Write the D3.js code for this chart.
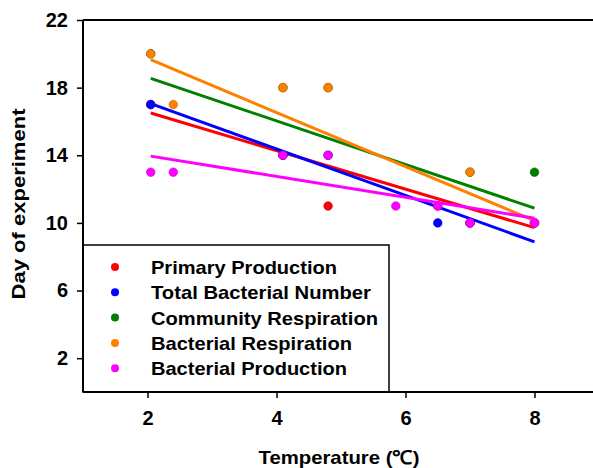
<!DOCTYPE html>
<html>
<head>
<meta charset="utf-8">
<script src="https://cdn.jsdelivr.net/npm/d3@7"></script>
<style>
  body { margin: 0; background: #fff; }
  text { font-family: Arial, "Liberation Sans", sans-serif; font-weight: bold; }
</style>
</head>
<body>
<div id="chart"></div>
<script>
// series names and colours
const seriesNames = ['Primary Production', 'Total Bacterial Number', 'Community Respiration',
    'Bacterial Respiration', 'Bacterial Production'];
const seriesColors = ['#ff0000', '#0000ff', '#008000', '#ff8000', '#ff00ff'];

// observed points (temperature, day) per series
const primaryProduction = [[2.05, 17], [4.1, 14], [4.8, 11], [6.5, 11], [7, 10], [8, 10]];
const totalBacterialNumber = [[2.05, 17], [4.1, 14], [4.8, 14], [6.5, 10], [7, 10], [8, 10]];
const communityRespiration = [[2.05, 20], [4.1, 18], [4.8, 18], [7, 13], [8, 13]];
const bacterialRespiration = [[2.05, 20], [2.4, 17], [4.1, 18], [4.8, 18], [7, 13], [8, 10]];
const bacterialProduction = [[2.05, 13], [2.4, 13], [4.1, 14], [4.8, 14], [5.85, 11], [6.5, 11], [7, 10], [8, 10]];
const seriesPoints = [primaryProduction, totalBacterialNumber, communityRespiration,
    bacterialRespiration, bacterialProduction];

// fitted regression lines: value at start temperature and at end temperature
const fitStartX = 2.05;
const fitEndX = 8;
const fitStart = [16.5, 17.05, 18.55, 19.65, 13.95];
const fitEnd = [9.72, 8.88, 10.87, 10.13, 10.28];

const xTicks = [2, 4, 6, 8];
const yTicks = [2, 6, 10, 14, 18, 22];

const width = 593;
const height = 468;
const margin = { top: 20, right: -6, bottom: 76, left: 83 };

const svg = d3.select('#chart').append('svg')
    .attr('width', width)
    .attr('height', height);

const x = d3.scaleLinear()
    .domain([1, 9])
    .range([margin.left, width - margin.right]);

const y = d3.scaleLinear()
    .domain([0, 22])
    .range([height - margin.bottom, margin.top]);

// series: points then fit line
seriesPoints.forEach((pts, i) => {
    const col = seriesColors[i];
    svg.append('g').selectAll('circle')
        .data(pts)
        .enter().append('circle')
        .attr('cx', d => x(d[0]))
        .attr('cy', d => y(d[1]))
        .attr('r', 4.3)
        .style('fill', col)
        .style('stroke', d3.color(col).darker(0.6))
        .style('stroke-width', 0.6);

    svg.append('line')
        .attr('x1', x(fitStartX))
        .attr('y1', y(fitStart[i]))
        .attr('x2', x(fitEndX))
        .attr('y2', y(fitEnd[i]))
        .style('stroke', col)
        .style('stroke-width', 3);
});

// top frame line
svg.append('line')
    .attr('x1', margin.left).attr('x2', width)
    .attr('y1', margin.top).attr('y2', margin.top)
    .style('stroke', '#000').style('stroke-width', 2);

// legend box
const legX = margin.left, legY = 245, legW = 306, legH = y(0) - 245;
const legend = svg.append('g');
legend.append('rect')
    .attr('x', legX).attr('y', legY)
    .attr('width', legW).attr('height', legH)
    .style('fill', '#fff').style('stroke', '#000').style('stroke-width', 1.5);

const legendWidths = [186, 220, 227, 201, 196];
seriesNames.forEach((name, i) => {
    const cy = 267 + i * 25.3;
    legend.append('circle')
        .attr('cx', 115).attr('cy', cy).attr('r', 4)
        .style('fill', seriesColors[i]);
    legend.append('text')
        .attr('x', 151).attr('y', cy + 7)
        .attr('textLength', legendWidths[i])
        .attr('lengthAdjust', 'spacingAndGlyphs')
        .style('font-size', '19px')
        .text(name);
});

// axes
const xAxis = svg.append('g')
    .attr('transform', 'translate(0,' + y(0) + ')')
    .call(d3.axisBottom(x).tickValues(xTicks).tickSize(6).tickPadding(13));

const yAxis = svg.append('g')
    .attr('transform', 'translate(' + margin.left + ',0)')
    .call(d3.axisLeft(y).tickValues(yTicks).tickSize(6).tickPadding(9));

[xAxis, yAxis].forEach(a => {
    a.selectAll('.tick line').style('stroke-width', 1.5);
    a.selectAll('.tick text').style('font-size', '20px').attr('fill', '#000');
});
xAxis.select('.domain').remove();
yAxis.select('.domain').remove();
svg.append('line')
    .attr('x1', margin.left).attr('x2', width)
    .attr('y1', y(0)).attr('y2', y(0))
    .style('stroke', '#000').style('stroke-width', 2);
svg.append('line')
    .attr('x1', margin.left).attr('x2', margin.left)
    .attr('y1', margin.top).attr('y2', y(0))
    .style('stroke', '#000').style('stroke-width', 2);

// axis titles
svg.append('text')
    .attr('x', 339).attr('y', 464)
    .attr('text-anchor', 'middle')
    .attr('textLength', 161)
    .attr('lengthAdjust', 'spacingAndGlyphs')
    .style('font-size', '19px')
    .text('Temperature (℃)');

svg.append('text')
    .attr('transform', 'translate(25,204) rotate(-90)')
    .attr('text-anchor', 'middle')
    .attr('textLength', 191)
    .attr('lengthAdjust', 'spacingAndGlyphs')
    .style('font-size', '19px')
    .text('Day of experiment');
</script>
</body>
</html>
